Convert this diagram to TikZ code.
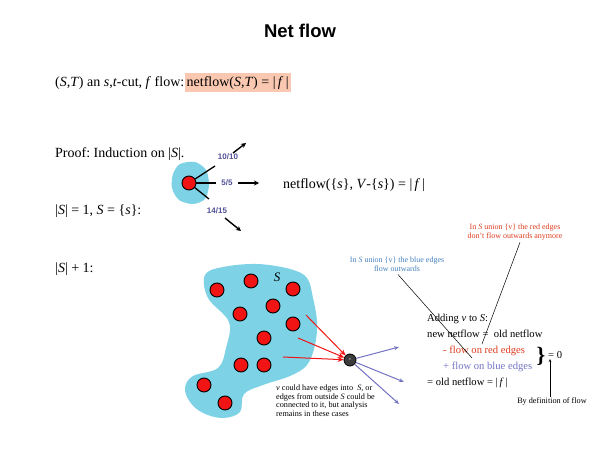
\documentclass[tikz,border=0pt]{standalone}
\usepackage{fontspec}
\setmainfont{Liberation Serif}
\setsansfont{Liberation Sans}
\usetikzlibrary{arrows.meta}
\frenchspacing
\definecolor{cyanblob}{RGB}{125,210,230}
\definecolor{hlcol}{RGB}{250,200,176}
\definecolor{nodered}{RGB}{240,20,20}
\definecolor{edgeblue}{RGB}{115,115,195}
\definecolor{labblue}{RGB}{80,80,150}
\definecolor{annblue}{RGB}{70,130,190}
\definecolor{annred}{RGB}{220,60,30}
\definecolor{vgray}{RGB}{60,60,60}
\begin{document}
\begin{tikzpicture}[x=1pt,y=-1pt,
  txt/.style={anchor=base west, inner sep=0pt, font=\fontsize{14}{16}\selectfont},
  rtxt/.style={anchor=base west, inner sep=0pt, font=\fontsize{10.6}{12}\selectfont},
  ann/.style={align=center, inner sep=0pt, font=\fontsize{8}{9}\selectfont},
  dot/.style={circle, fill=nodered, draw=black, line width=0.9pt, minimum size=14pt, inner sep=0pt},
  flab/.style={inner sep=0pt, text=labblue, font=\sffamily\bfseries\fontsize{8}{9}\selectfont},
  blk/.style={black, line width=1.3pt},
  blkarr/.style={black, line width=1.4pt, -{Stealth[length=5pt,width=5pt]}},
  redarr/.style={nodered, line width=1pt, -{Stealth[length=6pt,width=5pt]}},
  bluearr/.style={edgeblue, line width=1pt, -{Stealth[length=5pt,width=4pt]}},
  annline/.style={black, line width=0.5pt}
]
\useasboundingbox (0,0) rectangle (600,450);

% title
\node (title) at (300,31) {\fontsize{18.5}{20}\selectfont\sffamily\bfseries Net flow};

% line 1
\node[txt] (l1a) at (55,86) {(\textit{S},\textit{T}) an \textit{s},\textit{t}-cut, \textit{f} flow: };
\node[txt, anchor=base west, fill=hlcol, inner xsep=2pt, inner ysep=0pt, text height=13pt, text depth=6pt] (l1b) at (l1a.base east) {netflow(\textit{S},\textit{T}) = |\,\textit{f}\,|};

\node[txt] (proof) at (55,157) {Proof: Induction on |\textit{S}|.};
\node[txt] (case1) at (55,214) {|\textit{S}| = 1, \textit{S} = \{\textit{s}\}:};
\node[txt] (case2) at (55,272) {|\textit{S}| + 1:};
\node[txt] (nf1) at (283,188) {netflow(\{\textit{s}\}, \textit{V}-\{\textit{s}\}) = |\,\textit{f}\,|};

% small blob
\fill[cyanblob] plot[smooth cycle] coordinates {(180,164)(195,162)(206,170)(209,185)(205,199)(193,204)(179,200)(172,188)(173,174)};
\node[dot] (s) at (189,183) {};
\coordinate (e1) at (215,166);
\coordinate (e2) at (216,183);
\coordinate (e3) at (209,199);
\draw[blk] (s) -- (e1);
\draw[blk] (s) -- (e2);
\draw[blk] (s) -- (e3);
\node[flab] (f1) at (228,157) {10/10};
\node[flab] (f2) at (227,183) {5/5};
\node[flab] (f3) at (217,211) {14/15};
\coordinate (a1s) at (233,153); \coordinate (a1e) at (246,143);
\coordinate (a2s) at (238,183); \coordinate (a2e) at (259,183);
\coordinate (a3s) at (225,218); \coordinate (a3e) at (241,231);
\draw[blkarr] (a1s) -- (a1e);
\draw[blkarr] (a2s) -- (a2e);
\draw[blkarr] (a3s) -- (a3e);

% big blob
\fill[cyanblob] plot[smooth cycle, tension=0.6] coordinates {
 (205,275)(223,267)(257,264)(290,269)(307,278)(313,298)(317,322)(315,345)(307,365)(290,376)(263,385)(244,394)(240,412)(223,418)(203,413)(190,402)(185,388)(193,376)(218,368)(226,348)(229,322)(208,298)};
\node[dot] (d1) at (217,290) {};
\node[dot] (d2) at (251,281) {};
\node[dot] (d3) at (293,289) {};
\node[dot] (d4) at (273,306) {};
\node[dot] (d5) at (240,314) {};
\node[dot] (d6) at (293,324) {};
\node[dot] (d7) at (264,338) {};
\node[dot] (d8) at (241,365) {};
\node[dot] (d9) at (264,365) {};
\node[dot] (d10) at (204,385) {};
\node[dot] (d11) at (225,403) {};
\node (Slab) at (277,277) {\fontsize{13}{14}\selectfont\textit{S}};

% v node
\node[circle, fill=vgray, draw=black, line width=0.8pt, minimum size=12pt, inner sep=0pt, text=white, font=\fontsize{4}{4}\selectfont] (v) at (350,360) {v};
\coordinate (r1) at (306,315);
\coordinate (r2) at (298,338);
\coordinate (r3) at (283,357);
\draw[redarr] (r1) -- (v);
\draw[redarr] (r2) -- (v);
\draw[redarr] (r3) -- (v);
\coordinate (b1) at (399,347);
\coordinate (b2) at (404,382);
\coordinate (b3) at (399,404);
\draw[bluearr] (v) -- (b1);
\draw[bluearr] (v) -- (b2);
\draw[bluearr] (v) -- (b3);

% v note
\node[anchor=north west, align=left, inner sep=0pt, font=\fontsize{8.2}{8.4}\selectfont] (vnote) at (276,385) {\textit{v} could have edges into ~\textit{S}, or\\edges from outside \textit{S} could be\\connected to it, but analysis\\remains in these cases};

% annotations
\node[ann, text=annblue] (annb) at (397,264) {In \textit{S} union \{v\} the blue edges\\flow outwards};
\node[ann, text=annred] (annr) at (515,232) {In \textit{S} union \{v\} the red edges\\don't flow outwards anymore};

% right block
\node[rtxt] (t1) at (427,321) {Adding \textit{v} to \textit{S}:};
\node[rtxt] (t2) at (427,337) {new netflow = ~old netflow};
\node[rtxt, text=annred] (t3) at (443,353) {- flow on red edges};
\node[rtxt, text=edgeblue] (t4) at (443,369) {+ flow on blue edges};
\node[rtxt] (t5) at (427,385) {= old netflow = |\,\textit{f}\,|};
\node[inner sep=0pt] (brace) at (541,356) {\fontsize{22}{22}\selectfont\bfseries\}};
\node[anchor=west, inner sep=0pt, font=\fontsize{10.6}{12}\selectfont] (eq0) at (548,355) {= 0};
\node[ann, font=\fontsize{8.2}{9}\selectfont] (bydef) at (552,401) {By definition of flow};
\coordinate (defa) at (550,359);
\draw[annline, -{Stealth[length=3pt,width=2.5pt]}] (bydef.north -| defa) -- (defa);

\coordinate (bl) at (472,358);
\coordinate (rl) at (482,344);
\draw[annline] (annb.south) ++(1,3) -- (bl);
\draw[annline] (annr.south) ++(5,2) -- (rl);
\end{tikzpicture}
\end{document}
